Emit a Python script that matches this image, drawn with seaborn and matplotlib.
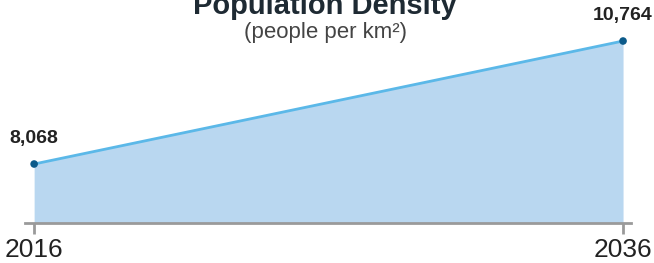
import matplotlib
matplotlib.use("Agg")
import matplotlib.pyplot as plt
import seaborn as sns
import pandas as pd

years = [2016, 2036]
density = [8068, 10764]
labels = ["8,068", "10,764"]

sns.set_theme(style="white")
plt.rcParams['font.family'] = ['Liberation Sans', 'DejaVu Sans']

df = pd.DataFrame({"year": years, "density": density})

fig = plt.figure(figsize=(6.54, 2.63), dpi=100)
ax = fig.add_axes([25/654, 1 - 223/263, (631 - 25)/654, 223/263])

ymin, ymax = 6775, 11663
ax.fill_between(df["year"], df["density"], ymin, color="#b9d7f0", lw=0, zorder=1)
sns.lineplot(data=df, x="year", y="density", ax=ax, color="#5bb8e8", lw=2, zorder=2)
sns.scatterplot(data=df, x="year", y="density", ax=ax, color="#0b5a8a", s=30,
                edgecolor="none", zorder=3)

ax.set_xlim(2015.69, 2036.27)
ax.set_ylim(ymin, ymax)
for s in ["top", "right", "left"]:
    ax.spines[s].set_visible(False)
ax.spines["bottom"].set_color("#9a9a9a")
ax.spines["bottom"].set_linewidth(2)
ax.set_xticks(years)
ax.set_xticklabels([str(y) for y in years], fontsize=19, color="#222222")
ax.tick_params(axis="x", direction="out", length=8, width=2, color="#9a9a9a", pad=3, bottom=True)
ax.set_yticks([])
ax.set_xlabel("")
ax.set_ylabel("")

for x, y, t in zip(years, density, labels):
    ax.annotate(t, (x, y), xytext=(0, 12), textcoords="offset points",
                ha="center", va="bottom", fontsize=14, fontweight="bold", color="#222222")

fig.text(0.497, 0.948, "Population Density", ha="center", va="baseline",
         fontsize=21, fontweight="bold", color="#1e2a33")
fig.text(0.497, 1 - 38/263, "(people per km²)", ha="center", va="baseline",
         fontsize=16, color="#444444")

fig.savefig("out.png", dpi=100)
